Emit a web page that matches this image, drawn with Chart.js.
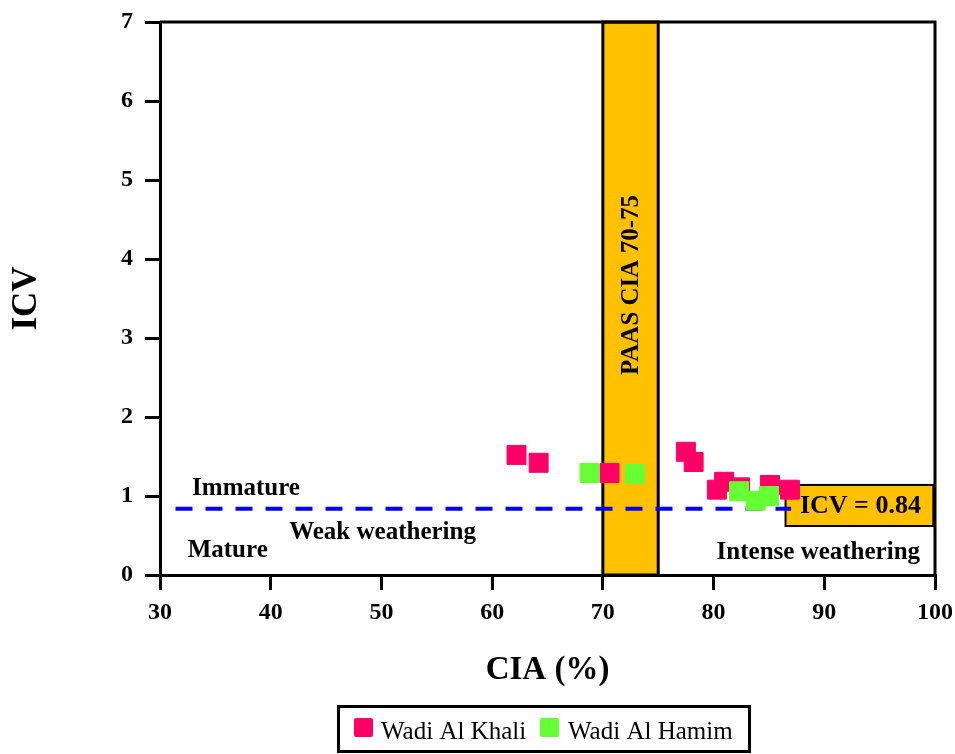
<!DOCTYPE html>
<html><head><meta charset="utf-8">
<script src="https://cdn.jsdelivr.net/npm/chart.js@4/dist/chart.umd.min.js"></script>
<style>html,body{margin:0;padding:0;background:#fff}#wrap{width:955px;height:754px}</style>
</head><body><div id="wrap"><canvas id="c" width="955" height="754"></canvas></div>
<script>
const khaliCIA = [62.2, 64.2, 70.6, 77.5, 78.2, 80.3, 80.95, 82.4, 85.1, 86.9];
const khaliICV = [1.52, 1.42, 1.29, 1.56, 1.43, 1.08, 1.18, 1.11, 1.14, 1.08];
const hamimCIA = [68.8, 72.9, 82.3, 83.8, 85.0];
const hamimICV = [1.29, 1.28, 1.06, 0.94, 1.00];
const icvLineCIA = [31.4, 87.0];
const icvLineValue = [0.84, 0.84];
const seriesNames = ['Wadi Al Khali', 'Wadi Al Hamim'];
const seriesColors = ['#FF0066', '#66FF33'];
const paasRange = [70, 75];

const SERIF = '"Liberation Serif", "Times New Roman", serif';

const overlay = {
  id: 'overlay',
  beforeDatasetsDraw(chart) {
    const {ctx, chartArea: a, scales: {x, y}} = chart;
    ctx.save();
    // PAAS band
    const x0 = x.getPixelForValue(paasRange[0]), x1 = x.getPixelForValue(paasRange[1]);
    ctx.fillStyle = '#FFC000';
    ctx.fillRect(x0, a.top, x1 - x0, a.bottom - a.top);
    ctx.lineWidth = 3; ctx.strokeStyle = '#000';
    ctx.strokeRect(x0, a.top, x1 - x0, a.bottom - a.top);
    ctx.save();
    ctx.translate(x.getPixelForValue(72.5) + 1, y.getPixelForValue(3.67));
    ctx.rotate(-Math.PI / 2);
    ctx.font = 'bold 25px ' + SERIF;
    ctx.fillStyle = '#000'; ctx.textAlign = 'center'; ctx.textBaseline = 'middle';
    ctx.fillText('PAAS CIA 70-75', 0, 0);
    ctx.restore();
    // ICV box
    const bx0 = x.getPixelForValue(86.5), bx1 = x.getPixelForValue(99.85);
    const by0 = y.getPixelForValue(1.14), by1 = y.getPixelForValue(0.62);
    ctx.fillStyle = '#FFC000';
    ctx.fillRect(bx0, by0, bx1 - bx0, by1 - by0);
    ctx.lineWidth = 2; ctx.strokeStyle = '#000';
    ctx.strokeRect(bx0, by0, bx1 - bx0, by1 - by0);
    ctx.fillStyle = '#000'; ctx.font = 'bold 26px ' + SERIF;
    ctx.textAlign = 'center'; ctx.textBaseline = 'middle';
    ctx.fillText('ICV = 0.84', (bx0 + bx1) / 2 + 1, (by0 + by1) / 2 + 1);
    // labels
    ctx.font = 'bold 25px ' + SERIF;
    ctx.textAlign = 'left';
    ctx.fillText('Immature', x.getPixelForValue(32.9), y.getPixelForValue(1.1));
    ctx.fillText('Mature', x.getPixelForValue(32.5), y.getPixelForValue(0.31));
    ctx.textAlign = 'center';
    ctx.fillText('Weak weathering', x.getPixelForValue(50.1), y.getPixelForValue(0.54));
    ctx.textAlign = 'right';
    ctx.fillText('Intense weathering', x.getPixelForValue(98.65), y.getPixelForValue(0.29));
    ctx.restore();
  },
  afterDraw(chart) {
    const {ctx, chartArea: a} = chart;
    ctx.save();
    ctx.lineWidth = 3; ctx.strokeStyle = '#000';
    ctx.beginPath();
    ctx.moveTo(a.left, a.top); ctx.lineTo(a.right, a.top); ctx.lineTo(a.right, a.bottom);
    ctx.stroke();
    // legend
    ctx.lineWidth = 3;
    ctx.strokeRect(338.5, 706.5, 411, 45);
    ctx.font = '25px ' + SERIF;
    ctx.textBaseline = 'middle'; ctx.textAlign = 'left';
    const items = [{bx: 354, tx: 381}, {bx: 540, tx: 568}];
    items.forEach((it, i) => {
      ctx.fillStyle = seriesColors[i];
      ctx.beginPath();
      if (ctx.roundRect) ctx.roundRect(it.bx, 718, 19, 19, 2); else ctx.rect(it.bx, 718, 19, 19);
      ctx.fill();
      ctx.fillStyle = '#000';
      ctx.fillText(seriesNames[i], it.tx, 732);
    });
    ctx.restore();
  }
};

const toPts = (xs, ys) => xs.map((v, i) => ({x: v, y: ys[i]}));

new Chart(document.getElementById('c'), {
  type: 'scatter',
  data: {
    datasets: [
      {label: seriesNames[0], data: toPts(khaliCIA, khaliICV), backgroundColor: seriesColors[0], borderColor: seriesColors[0], borderWidth: 1, pointStyle: 'rect', pointRadius: 13.4, pointHoverRadius: 13.4, order: 2},
      {label: seriesNames[1], data: toPts(hamimCIA, hamimICV), backgroundColor: seriesColors[1], borderColor: seriesColors[1], borderWidth: 1, pointStyle: 'rect', pointRadius: 13.4, pointHoverRadius: 13.4, order: 1},
      {label: 'ICV', type: 'line', data: toPts(icvLineCIA, icvLineValue), borderColor: '#0000FF', borderWidth: 4, borderDash: [17, 13], pointRadius: 0, fill: false, order: 3}
    ]
  },
  options: {
    responsive: false, animation: false,
    layout: {padding: {top: 22, right: 20, left: 0, bottom: 0}},
    plugins: {legend: {display: false}, tooltip: {enabled: false}},
    scales: {
      x: {
        type: 'linear', min: 30, max: 100,
        ticks: {stepSize: 10, color: '#000', font: {family: SERIF, size: 24, weight: 'bold'}, padding: 8, maxRotation: 0},
        grid: {drawOnChartArea: false, drawTicks: true, tickLength: 15, lineWidth: 3, color: '#000'},
        border: {display: true, width: 3, color: '#000'},
        title: {display: true, text: 'CIA (%)', color: '#000', font: {family: SERIF, size: 33, weight: 'bold'}, padding: {top: 0, bottom: 64}},
        afterFit(s) { s.height = 179; s.paddingRight = 0; s.paddingLeft = 0; }
      },
      y: {
        type: 'linear', min: 0, max: 7,
        ticks: {stepSize: 1, color: '#000', font: {family: SERIF, size: 24, weight: 'bold'}, padding: 12},
        grid: {drawOnChartArea: false, drawTicks: true, tickLength: 15, lineWidth: 3, color: '#000'},
        border: {display: true, width: 3, color: '#000'},
        title: {display: true, text: 'ICV', color: '#000', font: {family: SERIF, size: 35, weight: 'bold'}, padding: {top: 6, bottom: 0}},
        afterFit(s) { s.width = 160; s.paddingTop = 0; s.paddingBottom = 0; }
      }
    }
  },
  plugins: [overlay]
});
</script>
</body></html>
